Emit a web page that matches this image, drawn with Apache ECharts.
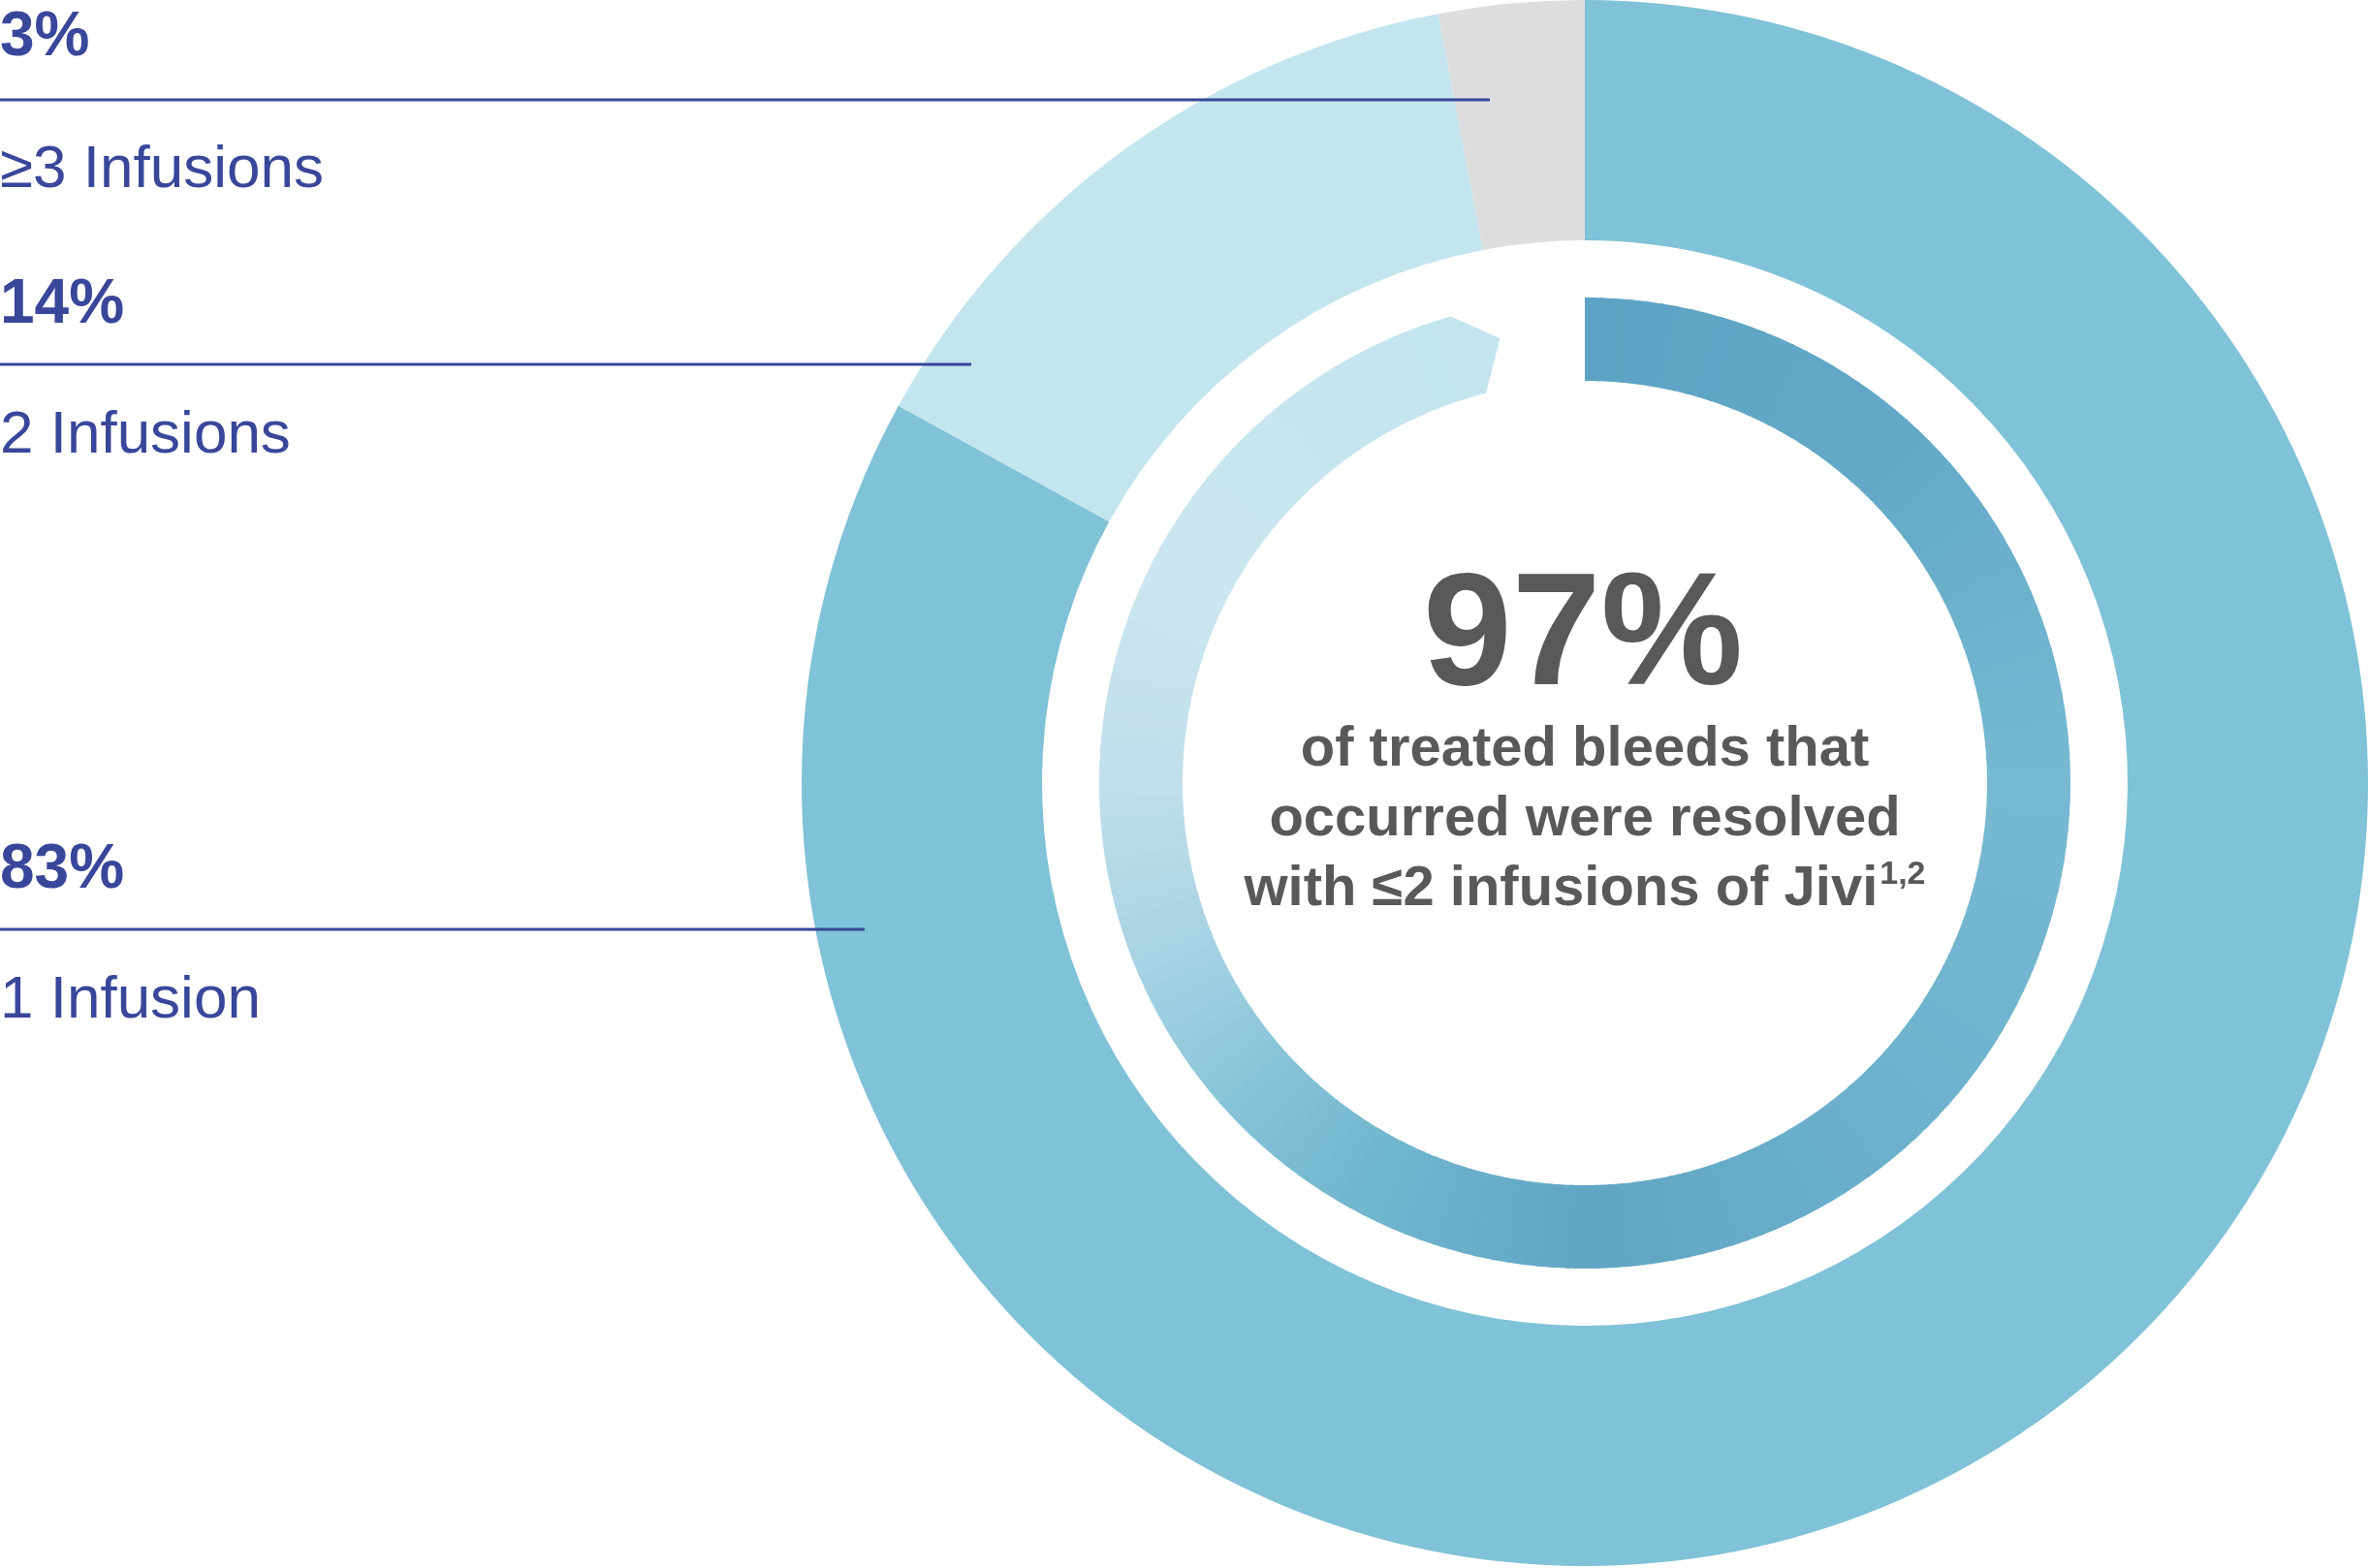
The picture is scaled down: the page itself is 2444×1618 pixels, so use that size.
<!DOCTYPE html>
<html>
<head>
<meta charset="utf-8">
<title>Jivi infusions</title>
<script src="https://cdn.jsdelivr.net/npm/echarts@6/dist/echarts.min.js"></script>
<style>
  html, body { margin: 0; padding: 0; background: #fff; }
  #chart { width: 2444px; height: 1618px; }
</style>
</head>
<body>
<div id="chart"></div>
<script>
// data
var categories = ['1 Infusion', '2 Infusions', '≥3 Infusions'];
var shares = [83, 14, 3];
var resolvedShare = 97;
var captionLines = ['of treated bleeds that', 'occurred were resolved', 'with ≤2 infusions of Jivi'];
var captionRef = '1,2';

// look
var segColors = ['#80c2d8', '#c3e5ee', '#dddddd'];
var navy = '#38479a';
var grey = '#58595b';
var font = '"Liberation Sans", Arial, Helvetica, sans-serif';
var CX = 1635, CY = 808, R_MAX = 808;
var R_IN = 415, R_OUT = 501, R_TIP = 467;
var HEAD_OUT = 1.45, HEAD_IN = 0.95;
// colour along the inner arrow (fraction of the full turn)
var arrowStops = [
    [0.00, '#5da3c3'], [0.12, '#63a9c7'], [0.25, '#78b9d2'], [0.38, '#6db1cc'],
    [0.50, '#60a6c4'], [0.58, '#72b6cf'], [0.63, '#86c3d8'], [0.69, '#a8d4e4'],
    [0.75, '#c0dfea'], [0.82, '#cbe6ef'], [0.90, '#c6e6ef'], [1.00, '#c2e5ee']
];
// label block placement, top to bottom: ≥3, 2, 1 infusions
var labelPlaces = [
    { idx: 2, pctY: 39, nameY: 176, lineY: 103, lineEnd: 1537 },
    { idx: 1, pctY: 315, nameY: 450, lineY: 376, lineEnd: 1002 },
    { idx: 0, pctY: 898, nameY: 1033, lineY: 959, lineEnd: 892 }
];

function hexRgb(h) {
    return [parseInt(h.substr(1, 2), 16), parseInt(h.substr(3, 2), 16), parseInt(h.substr(5, 2), 16)];
}
function colorAt(t) {
    for (var i = 1; i < arrowStops.length; i++) {
        if (t <= arrowStops[i][0]) {
            var a = arrowStops[i - 1], b = arrowStops[i];
            var k = (t - a[0]) / (b[0] - a[0]);
            var ca = hexRgb(a[1]), cb = hexRgb(b[1]);
            return 'rgb(' + [0, 1, 2].map(function (j) { return Math.round(ca[j] + (cb[j] - ca[j]) * k); }).join(',') + ')';
        }
    }
    return arrowStops[arrowStops.length - 1][1];
}

function renderArrow(params, api) {
    var end = api.value(1);
    var bodyEnd = end - HEAD_OUT;
    var step = 0.5;
    var children = [];
    for (var a = 0; a < bodyEnd; a += step) {
        var b = Math.min(a + step + 0.1, bodyEnd);
        var pts = [];
        for (var k = 0; k <= 4; k++) pts.push(api.coord([R_OUT, a + (b - a) * k / 4]));
        for (var k2 = 4; k2 >= 0; k2--) pts.push(api.coord([R_IN, a + (b - a) * k2 / 4]));
        children.push({ type: 'polygon', shape: { points: pts }, style: { fill: colorAt((a + step / 2) / 100) } });
    }
    var head = [api.coord([R_OUT, bodyEnd]), api.coord([R_TIP, end]), api.coord([R_IN, end - HEAD_IN])];
    for (var k3 = 1; k3 <= 4; k3++) head.push(api.coord([R_IN, end - HEAD_IN - (HEAD_OUT - HEAD_IN) * k3 / 4]));
    children.push({ type: 'polygon', shape: { points: head }, style: { fill: colorAt(bodyEnd / 100) } });
    return { type: 'group', children: children };
}

var graphics = [];
labelPlaces.forEach(function (p) {
    graphics.push({
        type: 'text', x: 0, y: p.pctY, z: 100,
        style: { text: shares[p.idx] + '%', font: 'bold 64px ' + font, fill: navy, align: 'left', verticalAlign: 'middle' }
    });
    graphics.push({
        type: 'text', x: 0, y: p.nameY, z: 100,
        style: { text: categories[p.idx], font: '62px ' + font, fill: navy, align: 'left', verticalAlign: 'middle' }
    });
    graphics.push({
        type: 'line', z: 100,
        shape: { x1: 0, y1: p.lineY, x2: p.lineEnd, y2: p.lineY },
        style: { stroke: navy, lineWidth: 3 }
    });
});
graphics.push({
    type: 'text', x: 1633, y: 660, z: 100,
    style: { text: resolvedShare + '%', font: 'bold 165px ' + font, fill: grey, align: 'center', verticalAlign: 'middle' }
});
graphics.push({
    type: 'text', x: CX, y: 846, z: 100,
    style: {
        text: '{b|' + captionLines[0] + '}\n{b|' + captionLines[1] + '}\n{b|' + captionLines[2] + '}{s|' + captionRef + '}',
        align: 'center', verticalAlign: 'middle',
        rich: {
            b: { font: 'bold 58px ' + font, fill: grey, lineHeight: 72 },
            s: { font: 'bold 34px ' + font, fill: grey, lineHeight: 72, verticalAlign: 'top', padding: [4, 0, 0, 2] }
        }
    }
});

var chart = echarts.init(document.getElementById('chart'));
chart.setOption({
    animation: false,
    polar: { center: [CX, CY], radius: R_MAX },
    angleAxis: { type: 'value', min: 0, max: 100, startAngle: 90, clockwise: true, show: false,
        axisLine: { show: false }, splitLine: { show: false }, axisTick: { show: false }, axisLabel: { show: false } },
    radiusAxis: { type: 'value', min: 0, max: R_MAX, show: false,
        axisLine: { show: false }, splitLine: { show: false }, axisTick: { show: false }, axisLabel: { show: false } },
    series: [
        {
            type: 'pie',
            center: [CX, CY],
            radius: [560, R_MAX],
            startAngle: 90,
            clockwise: true,
            silent: true,
            label: { show: false },
            labelLine: { show: false },
            data: categories.map(function (c, i) {
                return { name: c, value: shares[i], itemStyle: { color: segColors[i] } };
            })
        },
        {
            type: 'custom',
            coordinateSystem: 'polar',
            silent: true,
            renderItem: renderArrow,
            data: [[0, resolvedShare]]
        }
    ],
    graphic: graphics
});
</script>
</body>
</html>
